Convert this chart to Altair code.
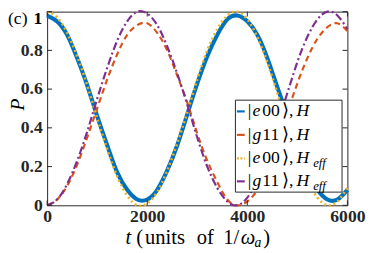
import altair as alt
import pandas as pd

# ---- data ----
t_vals = list(range(0, 6001, 200))
e00_H = [0.98, 0.95, 0.88, 0.76, 0.62, 0.46, 0.31, 0.17, 0.08, 0.03, 0.03,
         0.08, 0.18, 0.31, 0.47, 0.63, 0.77, 0.88, 0.96, 0.98, 0.95,
         0.88, 0.76, 0.61, 0.46, 0.30, 0.17, 0.08, 0.03, 0.03, 0.08]
g11_H = [0.00, 0.03, 0.10, 0.21, 0.35, 0.50, 0.65, 0.78, 0.88, 0.93, 0.94,
         0.89, 0.80, 0.67, 0.53, 0.37, 0.23, 0.12, 0.03, 0.00, 0.02,
         0.08, 0.19, 0.33, 0.48, 0.63, 0.76, 0.86, 0.92, 0.94, 0.90]
e00_Heff = [1.00, 0.97, 0.89, 0.77, 0.62, 0.45, 0.29, 0.15, 0.05, 0.00, 0.01,
            0.07, 0.18, 0.32, 0.48, 0.65, 0.80, 0.91, 0.98, 1.00, 0.96,
            0.87, 0.74, 0.58, 0.42, 0.26, 0.13, 0.04, 0.00, 0.02, 0.09]
g11_Heff = [0.00, 0.03, 0.11, 0.23, 0.38, 0.55, 0.71, 0.85, 0.95, 1.00, 0.99,
            0.93, 0.82, 0.68, 0.52, 0.35, 0.20, 0.09, 0.02, 0.00, 0.04,
            0.13, 0.26, 0.42, 0.58, 0.74, 0.87, 0.96, 1.00, 0.98, 0.91]

x_ticks = [0, 2000, 4000, 6000]
y_ticks = [0, 0.2, 0.4, 0.6, 0.8, 1.0]

legend_kets = [("e", "00"), ("g", "11"), ("e", "00"), ("g", "11")]
legend_eff = [False, False, True, True]

# ---- styling ----
W, H = 307, 198
FONT = "Liberation Serif"
AX = "#262626"
BLUE, ORANGE, YELLOW, PURPLE = "#0072BD", "#D95319", "#EDB120", "#7E2F8E"

df = pd.DataFrame({"t": t_vals, "e00_H": e00_H, "g11_H": g11_H,
                   "e00_Heff": e00_Heff, "g11_Heff": g11_Heff})
xt = pd.DataFrame({"v": x_ticks})
yt = pd.DataFrame({"v": y_ticks})
one = pd.DataFrame({"a": [0]})

xs = alt.Scale(domain=[0, 6000], nice=False, zero=False)
ys = alt.Scale(domain=[0, 1], nice=False, zero=False)

xaxis = alt.Axis(values=x_ticks, format="d", labelFont=FONT, labelFontWeight="bold",
                 labelFontSize=18, labelColor=AX, domain=False, ticks=False, tickSize=0,
                 grid=False, title=None, labelPadding=3, labelFlush=False)
yaxis = alt.Axis(values=[0, 0.2, 0.4, 0.6, 0.8],
                 labelExpr="datum.value == 0 ? '0' : format(datum.value, '.1f')",
                 labelFont=FONT, labelFontWeight="bold",
                 labelFontSize=18, labelColor=AX, domain=False, ticks=False, tickSize=0,
                 grid=False, title=None, labelPadding=5, labelFlush=False)


def curve(col, color, width, dash=None):
    kw = dict(color=color, strokeWidth=width, interpolate="natural", strokeCap="butt")
    if dash:
        kw["strokeDash"] = dash
    return alt.Chart(df).mark_line(**kw).encode(
        x=alt.X("t:Q", scale=xs, axis=xaxis),
        y=alt.Y(f"{col}:Q", scale=ys, axis=yaxis),
    )


def txt(text, x, y, size=18, style="normal", weight="normal", align="left",
        baseline="middle", angle=0):
    return alt.Chart(one).mark_text(
        text=text, font=FONT, fontSize=size, fontStyle=style, fontWeight=weight,
        align=align, baseline=baseline, angle=angle, color="black",
    ).encode(x=alt.value(x), y=alt.value(y))


layers = [
    curve("e00_H", BLUE, 4.2),
    curve("g11_H", ORANGE, 2.2, [6, 4]),
    curve("e00_Heff", YELLOW, 2.6, [2, 3]),
    curve("g11_Heff", PURPLE, 2.2, [8, 3, 2, 3]),
]

# inward ticks on all four sides
layers += [
    alt.Chart(yt).mark_rule(color=AX, strokeWidth=1).encode(
        y=alt.Y("v:Q", scale=ys, axis=yaxis), x=alt.value(0), x2=alt.value(5)),
    alt.Chart(yt).mark_rule(color=AX, strokeWidth=1).encode(
        y=alt.Y("v:Q", scale=ys, axis=yaxis), x=alt.value(W - 5), x2=alt.value(W)),
    alt.Chart(xt).mark_rule(color=AX, strokeWidth=1).encode(
        x=alt.X("v:Q", scale=xs, axis=xaxis), y=alt.value(H - 5), y2=alt.value(H)),
    alt.Chart(xt).mark_rule(color=AX, strokeWidth=1).encode(
        x=alt.X("v:Q", scale=xs, axis=xaxis), y=alt.value(0), y2=alt.value(5)),
]

# legend box
layers.append(
    alt.Chart(one).mark_rect(fill="white", stroke=AX, strokeWidth=1).encode(
        x=alt.value(192.5), x2=alt.value(301.5), y=alt.value(90.5), y2=alt.value(184.5))
)
row_y = [102, 126, 150, 173.5]
sym_colors = [BLUE, ORANGE, YELLOW, PURPLE]
for i, ((letter, digits), eff) in enumerate(zip(legend_kets, legend_eff)):
    y = row_y[i]
    rk = dict(color=sym_colors[i], strokeWidth=2.2)
    if i == 2:
        rk["strokeDash"] = [2, 1.6]
    layers.append(alt.Chart(one).mark_rule(**rk).encode(
        x=alt.value(194), x2=alt.value(202), y=alt.value(y)))
    layers.append(txt("|", 205, y))
    layers.append(txt(letter, 210, y, style="italic"))
    layers.append(txt(digits, 220, y))
    layers.append(txt("⟩,", 240, y))
    layers.append(txt("H", 255, y, style="italic"))
    if eff:
        layers.append(txt("eff", 272, y + 5, size=13, style="italic"))

# titles and extra labels
layers += [
    txt("1", -5, -1, weight="bold", align="right", baseline="top"),
    txt("(c)", -40, -1, size=18, baseline="top"),
    txt("P", -30, 95, size=20, style="italic", align="center", angle=270),
    txt("t", 80, 232, size=21, style="italic"),
    txt("(", 91, 232, size=21),
    txt("units", 100, 232, size=21),
    txt("of", 153, 232, size=21),
    txt("1/", 180, 232, size=21),
    txt("ω", 198, 232, size=21, style="italic"),
    txt("a", 212, 237, size=14, style="italic"),
    txt(")", 221, 232, size=21),
]

chart = alt.layer(*layers).properties(
    width=W, height=H,
    padding={"left": 40, "top": 1, "right": 19, "bottom": 45},
    autosize=alt.AutoSizeParams(type="none"),
).configure_view(stroke=AX, strokeWidth=1)

chart.save("out.html", embed_options={"renderer": "svg", "actions": False})
